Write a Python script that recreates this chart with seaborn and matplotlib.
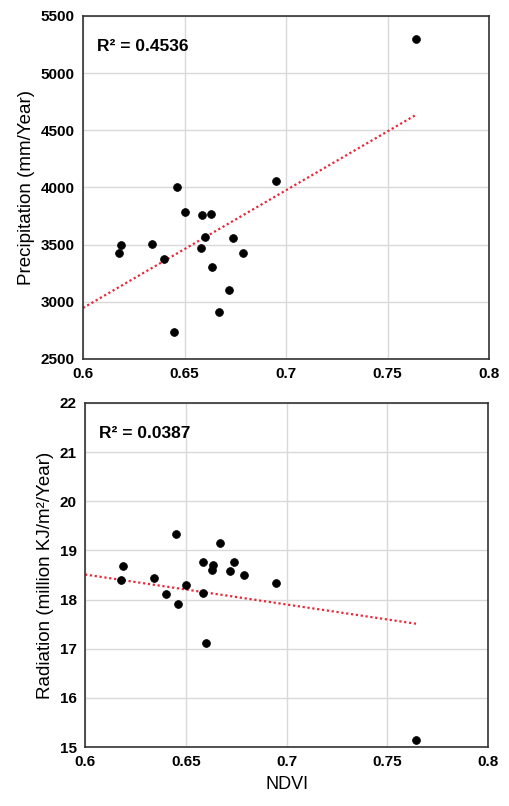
import numpy as np
import pandas as pd
import matplotlib
matplotlib.use("Agg")
import matplotlib.pyplot as plt
import seaborn as sns

# NDVI shared by both panels
ndvi = [0.6177, 0.6187, 0.6340, 0.6400, 0.6450, 0.6462, 0.6500, 0.6583, 0.6586,
        0.6600, 0.6631, 0.6637, 0.6672, 0.6719, 0.6740, 0.6790, 0.6949, 0.7642]
precip = [3427, 3494, 3506, 3372, 2736, 4002, 3786, 3468, 3759,
          3564, 3767, 3307, 2911, 3106, 3556, 3427, 4059, 5296]
radiation = [18.39, 18.68, 18.43, 18.11, 19.33, 17.91, 18.30, 18.77, 18.14,
             17.12, 18.60, 18.71, 19.16, 18.59, 18.77, 18.49, 18.34, 15.15]

# trendlines as shown in the chart (slope, intercept)
trend_slope = [10300, -6.1]
trend_intercept = [-3234, 22.17]

r2_labels = ["R\u00b2 = 0.4536", "R\u00b2 = 0.0387"]
ylabels = ["Precipitation (mm/Year)", "Radiation (million KJ/m\u00b2/Year)"]
xticks = [0.6, 0.65, 0.7, 0.75, 0.8]
xticklabels = ["0.6", "0.65", "0.7", "0.75", "0.8"]

df = pd.DataFrame({"NDVI": ndvi, "Precip": precip, "Rad": radiation})

sns.set_style("white")
plt.rcParams["font.family"] = ["Liberation Sans", "DejaVu Sans"]
plt.rcParams["text.color"] = "black"
plt.rcParams["axes.labelcolor"] = "black"
plt.rcParams["xtick.color"] = "black"
plt.rcParams["ytick.color"] = "black"

fig = plt.figure(figsize=(5.09, 8.06), dpi=100)
ax1 = fig.add_axes([0.163, 0.5546, 0.798, 0.4256])
ax2 = fig.add_axes([0.167, 0.0732, 0.792, 0.4268])

panels = [
    (ax1, "Precip", (2500, 5500), np.arange(2500, 5501, 500), 0),
    (ax2, "Rad", (15, 22), np.arange(15, 23, 1), 1),
]

for ax, col, ylim, yticks, i in panels:
    ax.grid(True, color="#d9d9d9", linewidth=1)
    ax.set_axisbelow(True)

    # linear trendline, extended back to the axis edge
    xs = np.array([0.6, df["NDVI"].max()])
    ax.plot(xs, trend_slope[i] * xs + trend_intercept[i], color="#e8283a",
            linestyle=(0, (1, 1.2)), linewidth=1.6, zorder=2)

    sns.scatterplot(data=df, x="NDVI", y=col, ax=ax, color="black", s=32,
                    edgecolor="black", linewidth=0.5, zorder=3)

    ax.set_xlim(0.6, 0.8)
    ax.set_ylim(*ylim)
    ax.set_xticks(xticks)
    ax.set_xticklabels(xticklabels)
    ax.set_yticks(yticks)
    ax.set_yticklabels([str(v) for v in yticks])
    ax.tick_params(axis="both", labelsize=11, length=0, pad=6, colors="black")
    for lbl in ax.get_xticklabels() + ax.get_yticklabels():
        lbl.set_fontweight("bold")
    for sp in ax.spines.values():
        sp.set_color("#333333")
        sp.set_linewidth(1.2)
    ax.set_ylabel(ylabels[i], fontsize=13.5, labelpad=4)
    ax.set_xlabel("")
    ax.text(0.035, 0.91, r2_labels[i], transform=ax.transAxes, fontsize=12.5,
            fontweight="bold", va="center", ha="left")

ax2.set_xlabel("NDVI", fontsize=13, labelpad=5)

fig.savefig("out.png", dpi=100)
